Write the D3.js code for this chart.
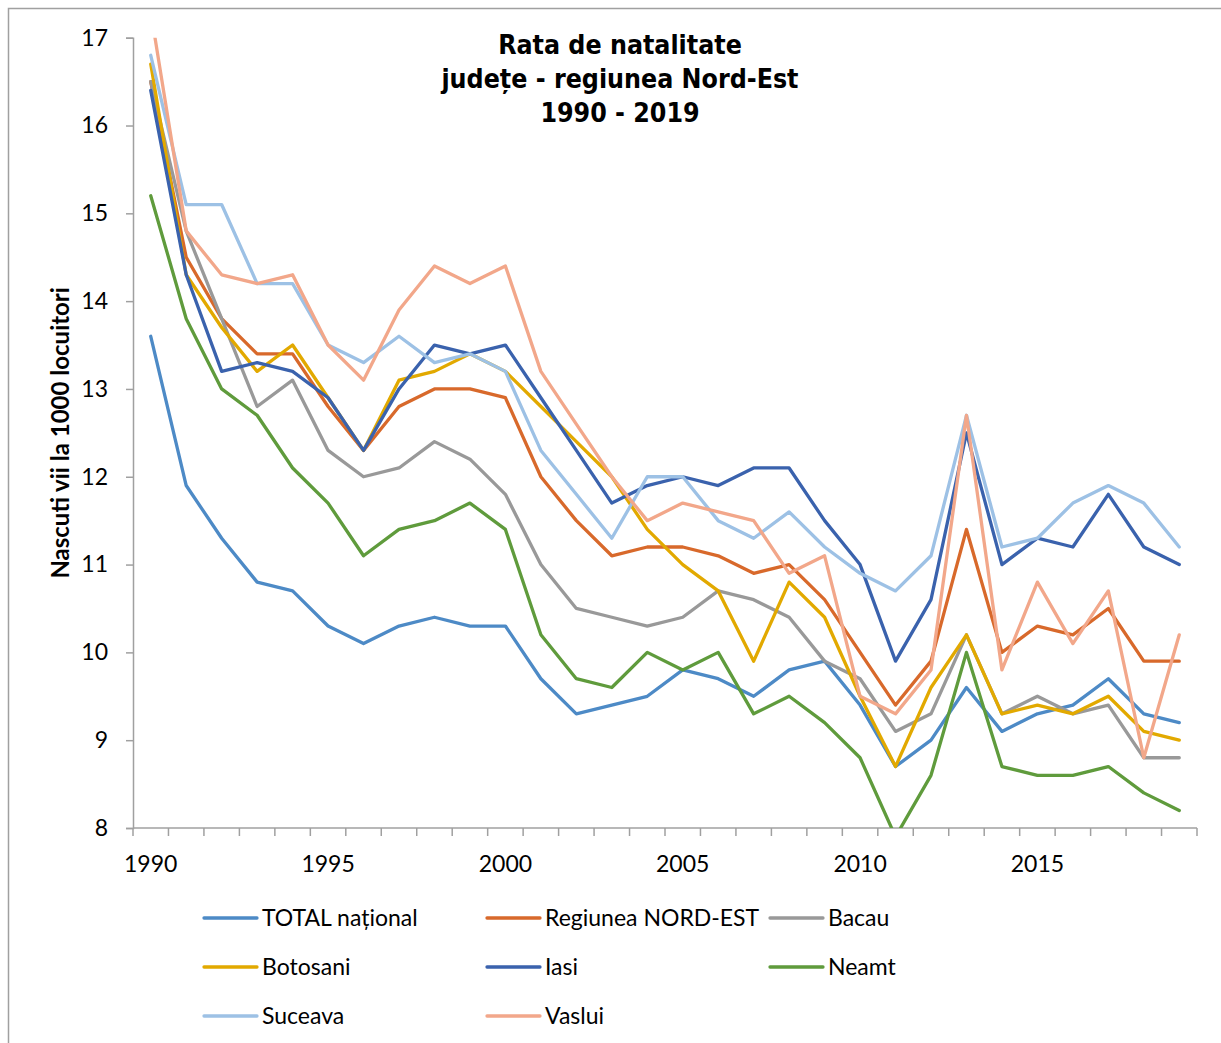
<!DOCTYPE html>
<html>
<head>
<meta charset="utf-8">
<script src="https://cdn.jsdelivr.net/npm/d3@7"></script>
<style>
  body { margin: 0; background: #fff; }
  svg { display: block; }
</style>
</head>
<body>
<div id="chart"></div>
<script>
// years on the category axis
const years = d3.range(1990, 2020);
const yearLabels = [1990, 1995, 2000, 2005, 2010, 2015];
const yTicks = [8, 9, 10, 11, 12, 13, 14, 15, 16, 17];

const seriesNames = ["TOTAL național", "Regiunea NORD-EST", "Bacau", "Botosani", "Iasi", "Neamt", "Suceava", "Vaslui"];

const totalNational = [13.6, 11.9, 11.3, 10.8, 10.7, 10.3, 10.1, 10.3, 10.4, 10.3, 10.3, 9.7, 9.3, 9.4, 9.5, 9.8, 9.7, 9.5, 9.8, 9.9, 9.4, 8.7, 9.0, 9.6, 9.1, 9.3, 9.4, 9.7, 9.3, 9.2];
const nordEst = [16.5, 14.5, 13.8, 13.4, 13.4, 12.8, 12.3, 12.8, 13.0, 13.0, 12.9, 12.0, 11.5, 11.1, 11.2, 11.2, 11.1, 10.9, 11.0, 10.6, 10.0, 9.4, 9.9, 11.4, 10.0, 10.3, 10.2, 10.5, 9.9, 9.9];
const bacau = [16.5, 14.8, 13.8, 12.8, 13.1, 12.3, 12.0, 12.1, 12.4, 12.2, 11.8, 11.0, 10.5, 10.4, 10.3, 10.4, 10.7, 10.6, 10.4, 9.9, 9.7, 9.1, 9.3, 10.2, 9.3, 9.5, 9.3, 9.4, 8.8, 8.8];
const botosani = [16.7, 14.3, 13.7, 13.2, 13.5, 12.9, 12.3, 13.1, 13.2, 13.4, 13.2, 12.8, 12.4, 12.0, 11.4, 11.0, 10.7, 9.9, 10.8, 10.4, 9.5, 8.7, 9.6, 10.2, 9.3, 9.4, 9.3, 9.5, 9.1, 9.0];
const iasi = [16.4, 14.3, 13.2, 13.3, 13.2, 12.9, 12.3, 13.0, 13.5, 13.4, 13.5, 12.9, 12.3, 11.7, 11.9, 12.0, 11.9, 12.1, 12.1, 11.5, 11.0, 9.9, 10.6, 12.5, 11.0, 11.3, 11.2, 11.8, 11.2, 11.0];
const neamt = [15.2, 13.8, 13.0, 12.7, 12.1, 11.7, 11.1, 11.4, 11.5, 11.7, 11.4, 10.2, 9.7, 9.6, 10.0, 9.8, 10.0, 9.3, 9.5, 9.2, 8.8, 7.9, 8.6, 10.0, 8.7, 8.6, 8.6, 8.7, 8.4, 8.2];
const suceava = [16.8, 15.1, 15.1, 14.2, 14.2, 13.5, 13.3, 13.6, 13.3, 13.4, 13.2, 12.3, 11.8, 11.3, 12.0, 12.0, 11.5, 11.3, 11.6, 11.2, 10.9, 10.7, 11.1, 12.7, 11.2, 11.3, 11.7, 11.9, 11.7, 11.2];
const vaslui = [17.3, 14.8, 14.3, 14.2, 14.3, 13.5, 13.1, 13.9, 14.4, 14.2, 14.4, 13.2, 12.6, 12.0, 11.5, 11.7, 11.6, 11.5, 10.9, 11.1, 9.5, 9.3, 9.8, 12.7, 9.8, 10.8, 10.1, 10.7, 8.8, 10.2];

const seriesValues = [totalNational, nordEst, bacau, botosani, iasi, neamt, suceava, vaslui];
const colors = ["#4d8ac6", "#d8692b", "#999999", "#e2a900", "#3a62ad", "#5f9b3c", "#9dc1e5", "#f2a78a"];

const width = 1221, height = 1043;
const plot = { left: 133, right: 1197, top: 37.7, bottom: 828 };

const svg = d3.select("#chart").append("svg")
    .attr("width", width)
    .attr("height", height);

// outer chart border
svg.append("rect")
    .attr("x", 8.5).attr("y", 8.5)
    .attr("width", 1300).attr("height", 1100)
    .attr("fill", "none")
    .attr("stroke", "#a0a0a0")
    .attr("stroke-width", 1.5);

const x = d3.scaleBand()
    .domain(years)
    .range([plot.left, plot.right])
    .padding(0);

const y = d3.scaleLinear()
    .domain([8, 17])
    .range([plot.bottom, plot.top]);

const axisColor = "#a0a0a0";
const labelFont = "Lato, 'Noto Sans', sans-serif";

// y axis
const yAxis = svg.append("g")
    .attr("transform", `translate(${plot.left},0)`)
    .call(d3.axisLeft(y).tickValues(yTicks).tickSize(7).tickPadding(18).tickFormat(d3.format("d")));
yAxis.select(".domain").attr("stroke", axisColor).attr("stroke-width", 1.5);
yAxis.selectAll(".tick line").attr("stroke", axisColor).attr("stroke-width", 1.5);
yAxis.selectAll(".tick text")
    .attr("font-family", labelFont)
    .attr("font-size", 23)
    .attr("fill", "#000");

// x axis: tick marks between categories, labels every 5 years
const xAxis = svg.append("g")
    .attr("transform", `translate(0,${plot.bottom})`);
xAxis.append("line")
    .attr("x1", plot.left).attr("x2", plot.right)
    .attr("stroke", axisColor).attr("stroke-width", 1.5);
xAxis.selectAll("line.tk")
    .data(years.concat([null]))
    .join("line")
    .attr("class", "tk")
    .attr("x1", d => d === null ? plot.right : x(d))
    .attr("x2", d => d === null ? plot.right : x(d))
    .attr("y1", 0).attr("y2", 8)
    .attr("stroke", axisColor).attr("stroke-width", 1.5);
xAxis.selectAll("text")
    .data(yearLabels)
    .join("text")
    .attr("x", d => x(d) + x.bandwidth() / 2)
    .attr("y", 44)
    .attr("text-anchor", "middle")
    .attr("font-family", labelFont)
    .attr("font-size", 23)
    .text(d => d);

// y axis title
svg.append("text")
    .attr("transform", `translate(69,${(plot.top + plot.bottom) / 2}) rotate(-90)`)
    .attr("text-anchor", "middle")
    .attr("font-family", labelFont)
    .attr("font-weight", "bold")
    .attr("font-size", 24)
    .text("Nascuti vii la 1000 locuitori");

// lines
svg.append("clipPath").attr("id", "plotclip")
    .append("rect")
    .attr("x", plot.left).attr("y", plot.top)
    .attr("width", plot.right - plot.left)
    .attr("height", plot.bottom - plot.top);

const line = d3.line()
    .x((d, i) => x(years[i]) + x.bandwidth() / 2)
    .y(d => y(d));

svg.append("g")
    .attr("clip-path", "url(#plotclip)")
    .selectAll("path")
    .data(seriesValues)
    .join("path")
    .attr("d", d => line(d))
    .attr("fill", "none")
    .attr("stroke", (d, i) => colors[i])
    .attr("stroke-width", 3.3)
    .attr("stroke-linejoin", "round")
    .attr("stroke-linecap", "round");

// title
const titleLines = ["Rata de natalitate", "județe - regiunea Nord-Est", "1990 - 2019"];
svg.append("g").selectAll("text")
    .data(titleLines)
    .join("text")
    .attr("x", 620)
    .attr("y", (d, i) => 54 + i * 34)
    .attr("text-anchor", "middle")
    .attr("font-family", "'DejaVu Sans Condensed', 'DejaVu Sans', sans-serif")
    .attr("font-weight", "bold")
    .attr("font-size", 26.5)
    .text(d => d);

// legend, 3 columns
const legend = svg.append("g").selectAll("g")
    .data(seriesNames)
    .join("g")
    .attr("transform", (d, i) => `translate(${204 + (i % 3) * 283},${918 + Math.floor(i / 3) * 49})`);
legend.append("line")
    .attr("x1", 0).attr("x2", 53)
    .attr("stroke", (d, i) => colors[i])
    .attr("stroke-width", 3.3)
    .attr("stroke-linecap", "round");
legend.append("text")
    .attr("x", 58)
    .attr("dy", "0.35em")
    .attr("font-family", labelFont)
    .attr("font-size", 23)
    .text(d => d);
</script>
</body>
</html>
